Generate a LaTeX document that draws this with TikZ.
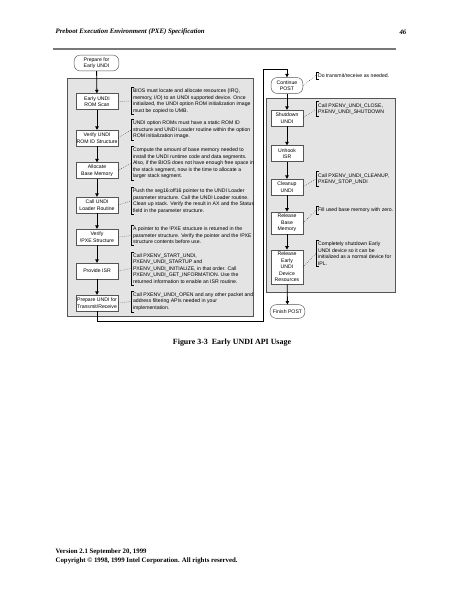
\documentclass[tikz,border=0pt]{standalone}
\usepackage{fontspec}
\setmainfont{Liberation Serif}
\newfontfamily\arialfont{Liberation Sans}
\usetikzlibrary{arrows.meta}
\definecolor{panelgray}{RGB}{228,228,228}
\definecolor{edgegray}{RGB}{85,85,85}
\definecolor{rulegray}{RGB}{120,120,120}

\begin{document}
\begin{tikzpicture}[x=1.3218pt, y=-1.3218pt,
    proc/.style={draw=edgegray, fill=white, line width=0.6pt, align=center, inner xsep=1pt, inner ysep=3pt,
      minimum height=21pt, font=\arialfont\fontsize{6.8}{8.6}\selectfont},
    term/.style={proc, rounded corners=8pt},
    note/.style={anchor=west, align=left, inner xsep=2.5pt, inner ysep=2pt, font=\arialfont\fontsize{6.8}{8.6}\selectfont},
    flow/.style={line width=1.1pt, -{Triangle[length=4.5pt, width=4.5pt]}},
    link/.style={dotted, line width=0.6pt},
    panel/.style={draw=edgegray, fill=panelgray, line width=0.6pt}]

  \useasboundingbox[fill=white] (0,0) rectangle (463,599);

  % page header
  \node[anchor=west, font=\bfseries\itshape\fontsize{9}{10}\selectfont] (head) at (53,32) {Preboot Execution Environment (PXE) Specification};
  \node[anchor=east, font=\bfseries\itshape\fontsize{9}{10}\selectfont] (page) at (409,32) {46};
  \draw[rulegray, line width=1.6pt] (53,49) -- (396,49);

  % shaded groups
  \draw[panel] (67,78) rectangle (253,316);
  \draw[panel] (266,98) rectangle (395,292);

  % left column
  \node[term, minimum width=59pt] (prep) at (96.5,63) {Prepare for\\Early UNDI};
  \node[proc, minimum width=55pt] (scan) at (97,101.5) {Early UNDI\\ROM Scan};
  \node[proc, minimum width=55pt] (verid) at (97,138) {Verify UNDI\\ROM ID Structure};
  \node[proc, minimum width=55pt] (alloc) at (97,170.5) {Allocate\\Base Memory};
  \node[proc, minimum width=55pt] (loader) at (97,205) {Call UNDI\\Loader Routine};
  \node[proc, minimum width=55pt] (verpxe) at (97,237) {Verify\\!PXE Structure};
  \node[proc, minimum width=55pt] (isr) at (97,271) {Provide ISR};
  \node[proc, minimum width=55pt] (open) at (97,303) {Prepare UNDI for\\Transmit/Receive};

  \node[note] (n1) at (131,101) {BIOS must locate and allocate resources (IRQ,\\memory, I/O) to an UNDI supported device. Once\\initialized, the UNDI option ROM initialization image\\must be copied to UMB.};
  \node[note] (n2) at (131,130) {UNDI option ROMs must have a static ROM ID\\structure and UNDI Loader routine within the option\\ROM initialization image.};
  \node[note] (n3) at (131,163.5) {Compute the amount of base memory needed to\\install the UNDI runtime code and data segments.\\Also, if the BIOS does not have enough free space in\\the stack segment, now is the time to allocate a\\larger stack segment.};
  \node[note] (n4) at (131,201) {Push the seg16:off16 pointer to the UNDI Loader\\parameter structure. Call the UNDI Loader routine.\\Clean up stack. Verify the result in AX and the Status\\field in the parameter structure.};
  \node[note] (n5) at (131,235.5) {A pointer to the !PXE structure is returned in the\\parameter structure. Verify the pointer and the !PXE\\structure contents before use.};
  \node[note] (n6) at (131,268.5) {Call PXENV\_START\_UNDI,\\PXENV\_UNDI\_STARTUP and\\PXENV\_UNDI\_INITIALIZE, in that order. Call\\PXENV\_UNDI\_GET\_INFORMATION. Use the\\returned information to enable an ISR routine.};
  \node[note] (n7) at (131,301.5) {Call PXENV\_UNDI\_OPEN and any other packet and\\address filtering APIs needed in your\\implementation.};

  % right column
  \node[term, minimum width=42pt] (cont) at (287,85.5) {Continue\\POST};
  \node[proc, minimum width=42pt] (shut) at (287,118) {Shutdown\\UNDI};
  \node[proc, minimum width=42pt] (unhook) at (287,153.5) {Unhook\\ISR};
  \node[proc, minimum width=42pt] (clean) at (287,187) {Cleanup\\UNDI};
  \node[proc, minimum width=42pt] (relmem) at (287,223) {Release\\Base\\Memory};
  \node[proc, minimum width=42pt] (reldev) at (287,267) {Release\\Early\\UNDI\\Device\\Resources};
  \node[term, minimum width=46pt, minimum height=18pt] (finish) at (287.5,311.5) {Finish POST};

  \node[note] (m1) at (316,75.5) {Do transmit/receive as needed.};
  \node[note] (m2) at (316,109) {Call PXENV\_UNDI\_CLOSE,\\PXENV\_UNDI\_SHUTDOWN};
  \node[note] (m3) at (316,179) {Call PXENV\_UNDI\_CLEANUP,\\PXENV\_STOP\_UNDI};
  \node[note] (m4) at (316,210.5) {Fill used base memory with zero.};
  \node[note] (m5) at (316,253.5) {Completely shutdown Early\\UNDI device so it can be\\initialized as a normal device for\\IPL.};

  % brackets and dotted links
  \foreach \t in {n1,n2,n3,n4,n5,n6,n7,m1,m2,m3,m4,m5}
    \draw[line width=0.9pt] ([xshift=4pt]\t.north west) -- (\t.north west) -- (\t.south west) -- ([xshift=4pt]\t.south west);
  \draw[link] (scan.east) -- (n1.west);
  \draw[link] (verid.east) -- (n2.west);
  \draw[link] (alloc.east) -- (n3.west);
  \draw[link] (loader.east) -- (n4.west);
  \draw[link] (verpxe.east) -- (n5.west);
  \draw[link] (isr.east) -- (n6.west);
  \draw[link] (open.east) -- (n7.west);
  \draw[link] (cont.east) -- (m1.west);
  \draw[link] (shut.east) -- (m2.west);
  \draw[link] (clean.east) -- (m3.west);
  \draw[link] (relmem.east) -- (m4.west);
  \draw[link] (reldev.east) -- (m5.west);

  % flow arrows
  \draw[flow] (prep) -- (scan);
  \draw[flow] (scan) -- (verid);
  \draw[flow] (verid) -- (alloc);
  \draw[flow] (alloc) -- (loader);
  \draw[flow] (loader) -- (verpxe);
  \draw[flow] (verpxe) -- (isr);
  \draw[flow] (isr) -- (open);
  \coordinate (lowturn) at (263,321);
  \coordinate (topturn) at (263,69);
  \draw[flow] (open.south) |- (lowturn) -- (topturn) -| (cont.north);
  \draw[flow] (cont) -- (shut);
  \draw[flow] (shut) -- (unhook);
  \draw[flow] (unhook) -- (clean);
  \draw[flow] (clean) -- (relmem);
  \draw[flow] (relmem) -- (reldev);
  \draw[flow] (reldev) -- (finish);

  % caption and footer
  \node[font=\bfseries\fontsize{10.5}{12}\selectfont] (cap) at (232,343) {Figure 3-3\ \ Early UNDI API Usage};
  \node[anchor=west, font=\bfseries\fontsize{9}{10}\selectfont] (ver) at (53,552) {Version 2.1 September 20, 1999};
  \node[anchor=west, font=\bfseries\fontsize{9}{10}\selectfont] (copy) at (53,560.5) {Copyright \textcopyright{} 1998, 1999 Intel Corporation. All rights reserved.};
\end{tikzpicture}
\end{document}
